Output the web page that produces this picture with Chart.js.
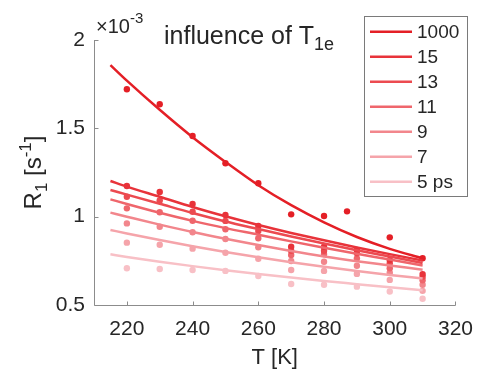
<!DOCTYPE html>
<html>
<head>
<meta charset="utf-8">
<script src="https://cdn.jsdelivr.net/npm/chart.js@4.4.0/dist/chart.umd.min.js"></script>
<style>
  body { margin: 0; background: #fff; }
  canvas { display: block; }
</style>
</head>
<body>
<canvas id="chart" width="485" height="371"></canvas>
<script>
// --- DATA (R1 in units of 1e-3 s^-1) ---
const labels = ['1000', '15', '13', '11', '9', '7', '5 ps'];
const colors = ['#e41f26', '#e8333a', '#ec4a50', '#ef666c', '#f2868c', '#f5a4aa', '#f8c0c6'];

const xTicks = [220, 240, 260, 280, 300, 320];
const yTicks = [0.5, 1, 1.5, 2];

// fitted curves
const fitT = [215, 220, 230, 240, 250, 260, 270, 280, 290, 300, 310];
const fit1000 = [1.858, 1.770, 1.605, 1.450, 1.310, 1.178, 1.065, 0.968, 0.885, 0.818, 0.764];
const fit15 = [1.202, 1.170, 1.113, 1.055, 1.002, 0.953, 0.908, 0.866, 0.826, 0.788, 0.752];
const fit13 = [1.151, 1.125, 1.073, 1.021, 0.973, 0.930, 0.888, 0.848, 0.810, 0.774, 0.738];
const fit11 = [1.098, 1.072, 1.022, 0.976, 0.935, 0.898, 0.860, 0.824, 0.790, 0.757, 0.723];
const fit9 = [1.023, 1.000, 0.955, 0.913, 0.875, 0.840, 0.806, 0.775, 0.748, 0.724, 0.700];
const fit7 = [0.925, 0.905, 0.868, 0.833, 0.800, 0.770, 0.742, 0.716, 0.692, 0.670, 0.650];
const fit5 = [0.787, 0.772, 0.745, 0.720, 0.697, 0.675, 0.655, 0.636, 0.618, 0.600, 0.584];

// measured points
const dotT1000 = [220, 230, 240, 250, 260, 270, 280, 287, 300, 310];
const dotT = [220, 230, 240, 250, 260, 270, 280, 290, 300, 310];
const dots1000 = [1.721, 1.636, 1.457, 1.302, 1.189, 1.013, 1.004, 1.030, 0.883, 0.765];
const dots15 = [1.174, 1.140, 1.072, 1.010, 0.947, 0.830, 0.830, 0.811, 0.755, 0.675];
const dots13 = [1.113, 1.092, 1.028, 0.976, 0.919, 0.807, 0.807, 0.793, 0.736, 0.660];
const dots11 = [1.047, 1.025, 0.977, 0.929, 0.878, 0.783, 0.789, 0.764, 0.708, 0.640];
const dots9 = [0.962, 0.943, 0.912, 0.874, 0.827, 0.749, 0.745, 0.722, 0.683, 0.615];
const dots7 = [0.853, 0.841, 0.819, 0.796, 0.762, 0.698, 0.693, 0.676, 0.642, 0.580];
const dots5 = [0.708, 0.704, 0.698, 0.693, 0.664, 0.619, 0.615, 0.604, 0.576, 0.535];

const fits = [fit1000, fit15, fit13, fit11, fit9, fit7, fit5];
const dots = [dots1000, dots15, dots13, dots11, dots9, dots7, dots5];
const dotTs = [dotT1000, dotT, dotT, dotT, dotT, dotT, dotT];

const FONT = '"Liberation Sans", Arial, Helvetica, sans-serif';
const TXT = '#262626';
const AXIS = '#8c8c8c';

// --- DATASETS ---
const datasets = [];
labels.forEach((lab, i) => {
    datasets.push({
        type: 'scatter',
        label: lab + ' data',
        isDot: true,
        data: dotTs[i].map((t, k) => ({ x: t, y: dots[i][k] })),
        backgroundColor: colors[i],
        borderWidth: 0,
        pointRadius: 3.2,
        order: 10 + i
    });
    datasets.push({
        type: 'line',
        label: lab,
        data: fitT.map((t, k) => ({ x: t, y: fits[i][k] })),
        borderColor: colors[i],
        borderWidth: 2.5,
        pointRadius: 0,
        fill: false,
        cubicInterpolationMode: 'monotone',
        order: i
    });
});

// text with sub/superscripts: parts = [{t, size, dy}]
function richWidth(ctx, parts) {
    return parts.reduce((w, p) => {
        ctx.font = `${p.size}px ${FONT}`;
        return w + ctx.measureText(p.t).width;
    }, 0);
}
function drawRich(ctx, parts, x, y) {
    parts.forEach(p => {
        ctx.font = `${p.size}px ${FONT}`;
        ctx.fillText(p.t, x, y + (p.dy || 0));
        x += ctx.measureText(p.t).width;
    });
}

const decor = {
    id: 'decor',
    afterDraw(chart) {
        const ctx = chart.ctx;
        const { left, right, top, bottom } = chart.chartArea;
        const xs = chart.scales.x, ys = chart.scales.y;
        ctx.save();

        // axes lines + inward ticks
        ctx.strokeStyle = AXIS;
        ctx.lineWidth = 1;
        ctx.beginPath();
        ctx.moveTo(left + 0.5, top);
        ctx.lineTo(left + 0.5, bottom + 0.5);
        ctx.lineTo(right, bottom + 0.5);
        xTicks.forEach(v => {
            const px = Math.round(xs.getPixelForValue(v)) + 0.5;
            ctx.moveTo(px, bottom + 0.5);
            ctx.lineTo(px, bottom - 3.5);
        });
        yTicks.forEach(v => {
            const py = Math.round(ys.getPixelForValue(v)) + 0.5;
            ctx.moveTo(left + 0.5, py);
            ctx.lineTo(left + 4.5, py);
        });
        ctx.stroke();

        ctx.fillStyle = TXT;
        ctx.textBaseline = 'alphabetic';
        ctx.textAlign = 'left';

        // exponent
        drawRich(ctx, [
            { t: '\u00d710', size: 20 },
            { t: '-3', size: 15, dy: -10 }
        ], 96, 33);

        // title
        drawRich(ctx, [
            { t: 'influence of T', size: 25 },
            { t: '1e', size: 18, dy: 6 }
        ], 164, 44);

        // x title
        ctx.font = `22px ${FONT}`;
        ctx.textAlign = 'center';
        ctx.fillText('T [K]', (left + right) / 2, 364);

        // y title (rotated)
        const yParts = [
            { t: 'R', size: 24 },
            { t: '1', size: 17, dy: 6 },
            { t: ' [s', size: 24 },
            { t: '-1', size: 17, dy: -10 },
            { t: ']', size: 24 }
        ];
        ctx.textAlign = 'left';
        ctx.save();
        ctx.translate(41, (top + bottom) / 2);
        ctx.rotate(-Math.PI / 2);
        drawRich(ctx, yParts, -richWidth(ctx, yParts) / 2, 0);
        ctx.restore();

        // legend
        const lx = 364.5, ly = 16.5, lw = 103, lh = 180;
        ctx.fillStyle = '#fff';
        ctx.fillRect(lx, ly, lw, lh);
        ctx.strokeStyle = '#7a7a7a';
        ctx.lineWidth = 1;
        ctx.strokeRect(lx, ly, lw, lh);
        ctx.font = `19px ${FONT}`;
        ctx.textBaseline = 'middle';
        chart.data.datasets.filter(d => !d.isDot).forEach((d, i) => {
            const yy = 31.7 + i * 25;
            ctx.strokeStyle = d.borderColor;
            ctx.lineWidth = 2.5;
            ctx.beginPath();
            ctx.moveTo(370, yy);
            ctx.lineTo(412, yy);
            ctx.stroke();
            ctx.fillStyle = TXT;
            ctx.fillText(d.label, 417, yy + 1);
        });

        ctx.restore();
    }
};

new Chart(document.getElementById('chart'), {
    data: { datasets },
    options: {
        responsive: false,
        animation: false,
        layout: { padding: { top: 40, right: 20, left: 0, bottom: 0 } },
        plugins: { legend: { display: false }, tooltip: { enabled: false } },
        scales: {
            x: {
                type: 'linear',
                min: 210, max: 320,
                afterBuildTicks: a => { a.ticks = xTicks.map(v => ({ value: v })); },
                afterFit: a => { a.height = 66; },
                grid: { display: false, drawTicks: false },
                border: { display: false },
                ticks: { color: TXT, font: { family: FONT, size: 21 }, padding: 12, maxRotation: 0 }
            },
            y: {
                type: 'linear',
                min: 0.5, max: 2,
                afterBuildTicks: a => { a.ticks = yTicks.map(v => ({ value: v })); },
                afterFit: a => { a.width = 94; },
                grid: { display: false, drawTicks: false },
                border: { display: false },
                ticks: { color: TXT, font: { family: FONT, size: 21 }, padding: 9, callback: v => String(v) }
            }
        }
    },
    plugins: [decor]
});
</script>
</body>
</html>
